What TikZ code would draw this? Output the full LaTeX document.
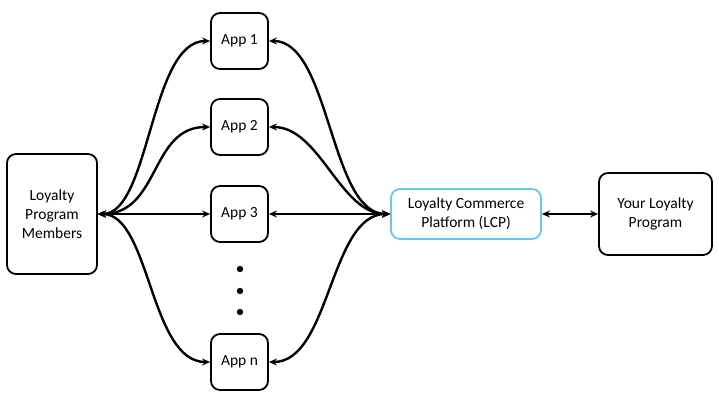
\documentclass[tikz,border=0pt]{standalone}
\usepackage{fontspec}
\setmainfont{Carlito}
\usetikzlibrary{arrows.meta}
\definecolor{lcpblue}{RGB}{100,200,240}
\begin{document}
\begin{tikzpicture}[x=1pt,y=-1pt,
  box/.style={draw,line width=1.8pt,rounded corners=9pt,align=center,inner sep=0pt,font=\fontsize{15.5}{19}\selectfont},
  link/.style={line width=2.4pt,{Stealth[length=8pt,width=7pt]}-{Stealth[length=8pt,width=7pt]}}]
\useasboundingbox (0,0) rectangle (719,403);
\node[box,minimum width=90pt,minimum height=120pt] (mem) at (52,214) {Loyalty\\Program\\Members};
\node[box,minimum width=57pt,minimum height=56pt] (a1) at (239.5,41) {App 1};
\node[box,minimum width=57pt,minimum height=56pt] (a2) at (239.5,127) {App 2};
\node[box,minimum width=57pt,minimum height=56pt] (a3) at (239.5,214) {App 3};
\node[box,minimum width=57pt,minimum height=56pt] (an) at (239.5,362) {App n};
\node[box,draw=lcpblue,minimum width=150pt,minimum height=50pt] (lcp) at (466,214) {Loyalty Commerce\\Platform (LCP)};
\node[box,minimum width=113pt,minimum height=82pt] (ylp) at (655.5,214) {Your Loyalty\\Program};
\foreach \yy/\nm in {269/d1,291/d2,312/d3} \fill (240,\yy) circle (3.2pt) coordinate (\nm);
\draw[link] (mem.east) .. controls (150,214) and (150,41) .. (a1.west);
\draw[link] (mem.east) .. controls (160,214) and (150,127) .. (a2.west);
\draw[link] (mem.east) -- (a3.west);
\draw[link] (mem.east) .. controls (150,214) and (150,362) .. (an.west);
\draw[link] (lcp.west) .. controls (330,214) and (330,41) .. (a1.east);
\draw[link] (lcp.west) .. controls (340,214) and (320,127) .. (a2.east);
\draw[link] (lcp.west) -- (a3.east);
\draw[link] (lcp.west) .. controls (330,214) and (330,362) .. (an.east);
\draw[link] (lcp.east) -- (ylp.west);
\end{tikzpicture}
\end{document}
